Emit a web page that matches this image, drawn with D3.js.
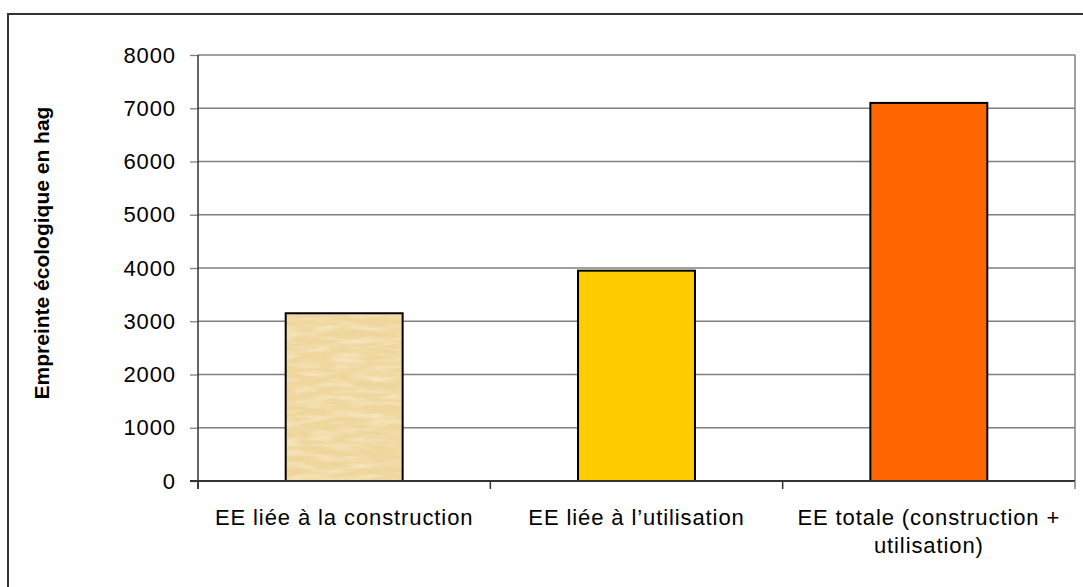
<!DOCTYPE html>
<html>
<head>
<meta charset="utf-8">
<script src="https://cdn.jsdelivr.net/npm/d3@7/dist/d3.min.js"></script>
<style>
  html, body { margin: 0; padding: 0; background: #fff; }
  svg text { font-family: "Liberation Sans", Arial, sans-serif; fill: #000; }
</style>
</head>
<body>
<svg id="chart" width="1083" height="587"></svg>
<script>
// Empreinte écologique (hag) par poste
const categories = [
  "EE liée à la construction",
  "EE liée à l\u2019utilisation",
  "EE totale (construction + utilisation)"
];
const values = [3150, 3950, 7100];
const barColors = ["#EFD69C", "#FFCC00", "#FF6600"];
const yTicks = [0, 1000, 2000, 3000, 4000, 5000, 6000, 7000, 8000];
const yTitle = "Empreinte écologique en hag";

const svg = d3.select("#chart");
const plot = { left: 198, top: 55, right: 1075, bottom: 481 };
const fontSize = 22;
const spacing = "0.9px";

// Outer chart frame (extends past the bottom/right edges)
svg.append("rect")
  .attr("x", 8).attr("y", 14)
  .attr("width", 1200).attr("height", 700)
  .attr("fill", "#fff")
  .attr("stroke", "#333").attr("stroke-width", 2);

// Parchment texture for the first bar: streaky noise over the tan fill
const defs = svg.append("defs");
const f = defs.append("filter").attr("id", "parchment")
  .attr("x", 0).attr("y", 0).attr("width", 1).attr("height", 1);
f.append("feTurbulence").attr("type", "fractalNoise")
  .attr("baseFrequency", "0.03 0.16").attr("numOctaves", 3).attr("seed", 11).attr("result", "noise");
f.append("feColorMatrix").attr("in", "noise").attr("type", "matrix")
  .attr("values", "0 0 0 0 0.99  0 0 0 0 0.91  0 0 0 0 0.72  1.1 0 0 0 -0.45")
  .attr("result", "light");
f.append("feComposite").attr("in", "light").attr("in2", "SourceGraphic").attr("operator", "atop");

const x = d3.scaleBand().domain(categories).range([plot.left, plot.right]).padding(0);
const y = d3.scaleLinear().domain([0, 8000]).range([plot.bottom, plot.top]);

// Horizontal gridlines
svg.append("g").selectAll("line").data(yTicks.filter(d => d > 0)).join("line")
  .attr("x1", plot.left).attr("x2", plot.right)
  .attr("y1", d => y(d)).attr("y2", d => y(d))
  .attr("stroke", "#808080").attr("stroke-width", 1.3);

// Plot-area right border
svg.append("line")
  .attr("x1", plot.right).attr("x2", plot.right)
  .attr("y1", plot.top).attr("y2", plot.bottom)
  .attr("stroke", "#808080").attr("stroke-width", 1.5);

// Bars
const barW = x.bandwidth() * 0.4;
const bars = svg.append("g");
bars.selectAll("rect").data(categories).join("rect")
  .attr("x", d => x(d) + (x.bandwidth() - barW) / 2)
  .attr("y", (d, i) => y(values[i]))
  .attr("width", barW)
  .attr("height", (d, i) => y(0) - y(values[i]))
  .attr("fill", (d, i) => barColors[i])
  .attr("filter", (d, i) => i === 0 ? "url(#parchment)" : null);
bars.selectAll("rect.outline").data(categories).join("rect")
  .attr("class", "outline")
  .attr("x", d => x(d) + (x.bandwidth() - barW) / 2)
  .attr("y", (d, i) => y(values[i]))
  .attr("width", barW)
  .attr("height", (d, i) => y(0) - y(values[i]))
  .attr("fill", "none")
  .attr("stroke", "#000").attr("stroke-width", 2);

// Y axis
const yAxis = svg.append("g")
  .attr("transform", `translate(${plot.left},0)`)
  .call(d3.axisLeft(y).tickValues(yTicks).tickFormat(d3.format("d"))
    .tickSize(8).tickPadding(14).tickSizeOuter(0));
yAxis.select(".domain").remove();
yAxis.selectAll(".tick line").attr("stroke", "#808080").attr("stroke-width", 1.3);
yAxis.selectAll(".tick text")
  .style("font-size", fontSize + "px")
  .style("letter-spacing", spacing)
  .style("font-family", "'Liberation Sans', Arial, sans-serif");
svg.append("line")
  .attr("x1", plot.left).attr("x2", plot.left)
  .attr("y1", plot.top).attr("y2", plot.bottom + 8)
  .attr("stroke", "#333").attr("stroke-width", 1.5);

// X axis line and band-boundary ticks
svg.append("line")
  .attr("x1", plot.left - 8).attr("x2", plot.right)
  .attr("y1", plot.bottom).attr("y2", plot.bottom)
  .attr("stroke", "#333").attr("stroke-width", 2);
const bounds = categories.map(c => x(c)).concat([plot.right]);
svg.append("g").selectAll("line").data(bounds).join("line")
  .attr("x1", d => d).attr("x2", d => d)
  .attr("y1", plot.bottom).attr("y2", plot.bottom + 8)
  .attr("stroke", (d, i) => i === bounds.length - 1 ? "#808080" : "#333")
  .attr("stroke-width", 1.5);

// Category labels, wrapped to the band width
const maxW = x.bandwidth() - 10;
categories.forEach(c => {
  const cx = x(c) + x.bandwidth() / 2;
  const t = svg.append("text")
    .attr("x", cx)
    .attr("y", 525)
    .attr("text-anchor", "middle")
    .style("letter-spacing", spacing)
    .style("font-size", fontSize + "px");
  const words = c.split(" ");
  let line = [];
  let ts = t.append("tspan").attr("x", cx).attr("dy", 0);
  words.forEach(w => {
    line.push(w);
    ts.text(line.join(" "));
    if (ts.node().getComputedTextLength() > maxW && line.length > 1) {
      line.pop();
      ts.text(line.join(" "));
      line = [w];
      ts = t.append("tspan").attr("x", cx)
        .attr("dy", "1.25em").text(w);
    }
  });
});

// Y axis title
svg.append("text")
  .attr("transform", `translate(49,253) rotate(-90)`)
  .attr("text-anchor", "middle")
  .style("font-size", "21px")
  .style("font-weight", "bold")
  .text(yTitle);
</script>
</body>
</html>
